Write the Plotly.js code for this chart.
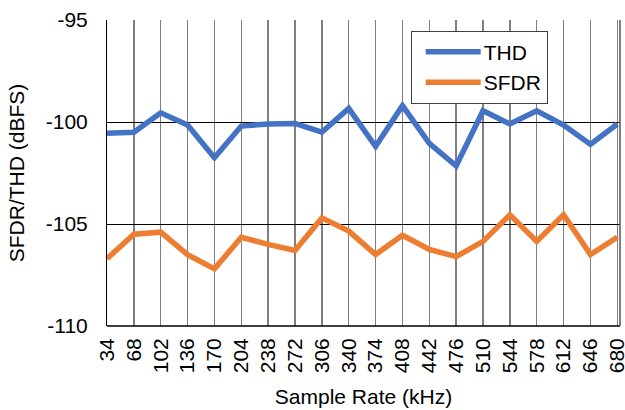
<!DOCTYPE html>
<html>
<head>
<meta charset="utf-8">
<script src="https://cdn.plot.ly/plotly-3.0.1.min.js"></script>
<style>html,body{margin:0;padding:0;background:#fff;}#chart{width:625px;height:410px;}</style>
</head>
<body>
<div id="chart"></div>
<script>
const sampleRates = ['34','68','102','136','170','204','238','272','306','340','374','408','442','476','510','544','578','612','646','680'];
const thd = [-100.55,-100.5,-99.55,-100.15,-101.75,-100.2,-100.1,-100.07,-100.5,-99.33,-101.2,-99.2,-101.05,-102.15,-99.45,-100.1,-99.45,-100.15,-101.1,-100.1];
const sfdr = [-106.7,-105.5,-105.4,-106.5,-107.2,-105.65,-106.0,-106.3,-104.7,-105.35,-106.5,-105.55,-106.25,-106.6,-105.85,-104.55,-105.85,-104.55,-106.5,-105.65];
const yTickVals = [-110, -105, -100, -95];
const yTickText = ['-110', '-105', '-100', '-95'];

const traces = [
  {x: sampleRates, y: thd, name: 'THD', type: 'scatter', mode: 'lines',
   line: {color: '#4472C4', width: 5.5}},
  {x: sampleRates, y: sfdr, name: 'SFDR', type: 'scatter', mode: 'lines',
   line: {color: '#ED7D31', width: 5.5}}
];

const layout = {
  width: 625, height: 410,
  margin: {l: 107, r: 5, t: 20, b: 84},
  paper_bgcolor: '#fff', plot_bgcolor: '#fff',
  font: {family: 'Liberation Sans, Arial, sans-serif', size: 21, color: '#000'},
  showlegend: true,
  legend: {x: 0.592, y: 0.965, xanchor: 'left', yanchor: 'top',
           bordercolor: '#404040', borderwidth: 1, bgcolor: '#fff',
           font: {size: 21}, itemwidth: 62, tracegroupgap: 0},
  xaxis: {
    type: 'category', range: [0, 19.1],
    tickangle: -90, showgrid: true, gridcolor: '#7f7f7f', gridwidth: 1.5,
    showline: false, ticks: '', tickfont: {size: 21}, ticklabelstandoff: 7,
    title: {text: 'Sample Rate (kHz)', font: {size: 21}, standoff: 17}
  },
  yaxis: {
    range: [-110, -95], tickmode: 'array', tickvals: yTickVals, ticktext: yTickText,
    showgrid: true, gridcolor: '#000', gridwidth: 1,
    showline: true, linecolor: '#000', linewidth: 1,
    ticks: '', ticklabelstandoff: 14,
    tickfont: {size: 21}, zeroline: false,
    title: {text: 'SFDR/THD (dBFS)', font: {size: 21}, standoff: 15}
  },
  shapes: [
    {type: 'line', xref: 'paper', yref: 'paper', x0: 0, x1: 1, y0: 0, y1: 0,
     line: {color: '#000', width: 1.5}},
    {type: 'line', xref: 'paper', yref: 'paper', x0: 1, x1: 1, y0: 0, y1: 1,
     line: {color: '#555', width: 1.5}}
  ]
};

Plotly.newPlot('chart', traces, layout, {displayModeBar: false, staticPlot: true}).then(function(gd){
  gd.querySelectorAll('.legend .traces').forEach(function(g){
    const txt = g.querySelector('.legendtext');
    const path = g.querySelector('.legendlines path');
    if (!txt || !path) return;
    const tx = txt.getBoundingClientRect().left;
    const ctm = path.getScreenCTM();
    const x0 = (tx - 58 - ctm.e) / ctm.a;
    const x1 = (tx - 3 - ctm.e) / ctm.a;
    path.setAttribute('d', 'M' + x0 + ',0H' + x1);
  });
});
</script>
</body>
</html>
